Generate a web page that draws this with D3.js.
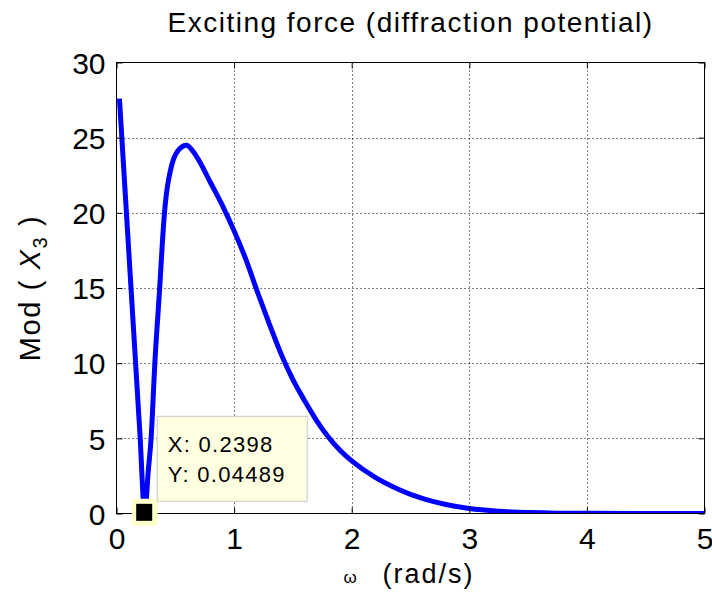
<!DOCTYPE html>
<html>
<head>
<meta charset="utf-8">
<script src="https://cdn.jsdelivr.net/npm/d3@7"></script>
<style>
  body { margin: 0; background: #fff; }
  svg { display: block; font-family: "Liberation Sans", Arial, sans-serif; }
</style>
</head>
<body>
<svg width="712" height="596"></svg>
<script>
// values
var omega = [0.025, 0.05, 0.1, 0.15, 0.2, 0.2398, 0.27, 0.295, 0.326, 0.368, 0.39, 0.408, 0.425, 0.445,
             0.474, 0.53, 0.595, 0.65, 0.7, 0.8, 0.9, 1.0, 1.1, 1.2, 1.3, 1.4, 1.5, 1.6, 1.7, 1.8,
             1.9, 2.0, 2.2, 2.4, 2.6, 2.8, 3.0, 3.25, 3.5, 3.75, 4.0, 4.5, 5.0];
var modX3 = [27.6, 24.4, 18.0, 11.6, 5.2, 0.04489, 2.8, 5.1, 10.0, 15.1, 18.0, 20.0, 21.3, 22.3,
             23.3, 24.2, 24.5, 24.1, 23.5, 22.0, 20.5, 18.8, 16.9, 14.7, 12.6, 10.6, 8.9, 7.5, 6.2, 5.1,
             4.2, 3.5, 2.4, 1.6, 1.0, 0.6, 0.33, 0.15, 0.06, 0.02, 0.01, 0.0, 0.0];
var xTicks = [0, 1, 2, 3, 4, 5];
var yTicks = [0, 5, 10, 15, 20, 25, 30];
var tipX = 0.2398, tipY = 0.04489;

var svg = d3.select("svg");
var pLeft = 116.5, pRight = 704.5, pTop = 62.5, pBottom = 513.5;

var x = d3.scaleLinear().domain([0, 5]).range([pLeft, pRight]),
    y = d3.scaleLinear().domain([0, 30]).range([pBottom, pTop]);

svg.append("defs").append("clipPath").attr("id", "plot")
  .append("rect")
    .attr("x", pLeft).attr("y", pTop)
    .attr("width", pRight - pLeft).attr("height", pBottom - pTop);

// dotted grid
var grid = svg.append("g")
    .attr("stroke", "#000")
    .attr("stroke-width", 1)
    .attr("stroke-dasharray", "1,3");
grid.selectAll(".gx")
  .data(xTicks.slice(1, -1))
  .enter().append("line")
    .attr("x1", function(d) { return Math.round(x(d)) + 0.5; })
    .attr("x2", function(d) { return Math.round(x(d)) + 0.5; })
    .attr("y1", pTop).attr("y2", pBottom);
grid.selectAll(".gy")
  .data(yTicks.slice(1, -1))
  .enter().append("line")
    .attr("y1", function(d) { return Math.round(y(d)) + 0.5; })
    .attr("y2", function(d) { return Math.round(y(d)) + 0.5; })
    .attr("x1", pLeft).attr("x2", pRight);

// curve
var line = d3.line()
    .x(function(d, i) { return x(omega[i]); })
    .y(function(d) { return y(d); })
    .curve(d3.curveMonotoneX);

svg.append("path")
    .datum(modX3)
    .attr("clip-path", "url(#plot)")
    .attr("fill", "none")
    .attr("stroke", "#0000ff")
    .attr("stroke-width", 5)
    .attr("stroke-linejoin", "round")
    .attr("d", line);

// axes on all four sides, ticks inward
var tl = 6, fmt = d3.format("d");
svg.append("g")
    .attr("class", "axis axis--x")
    .attr("transform", "translate(0," + pBottom + ")")
    .call(d3.axisBottom(x).tickValues(xTicks).tickFormat(fmt).tickSizeInner(-tl).tickSizeOuter(0).tickPadding(14));
svg.append("g")
    .attr("transform", "translate(0," + pTop + ")")
    .call(d3.axisTop(x).tickValues(xTicks).tickSizeInner(-tl).tickSizeOuter(0).tickFormat(""));
svg.append("g")
    .attr("class", "axis axis--y")
    .attr("transform", "translate(" + pLeft + ",0)")
    .call(d3.axisLeft(y).tickValues(yTicks).tickFormat(fmt).tickSizeInner(-tl).tickSizeOuter(0).tickPadding(11));
svg.append("g")
    .attr("transform", "translate(" + pRight + ",0)")
    .call(d3.axisRight(y).tickValues(yTicks).tickSizeInner(-tl).tickSizeOuter(0).tickFormat(""));

svg.selectAll(".domain").remove();
svg.selectAll(".tick line").attr("stroke", "#000");
svg.selectAll(".tick text")
    .attr("fill", "#000")
    .style("font-size", "30px")
    .style("font-family", "'Liberation Sans', Arial, sans-serif");
svg.selectAll(".axis--x .tick text").attr("dy", "0.71em");
svg.selectAll(".axis--y .tick text").attr("dy", "0.36em");

svg.append("rect")
    .attr("x", pLeft).attr("y", pTop)
    .attr("width", pRight - pLeft).attr("height", pBottom - pTop)
    .attr("fill", "none")
    .attr("stroke", "#000")
    .attr("stroke-width", 1);

// data tip
var mx = x(tipX), my = y(tipY);
svg.append("rect")
    .attr("x", mx - 13).attr("y", my - 14)
    .attr("width", 26).attr("height", 27)
    .attr("rx", 2)
    .attr("fill", "#ffffcc");
svg.append("rect")
    .attr("x", mx - 8.5).attr("y", my - 9)
    .attr("width", 16).attr("height", 17)
    .attr("fill", "#000");

var tip = svg.append("g").attr("transform", "translate(" + (mx + 12) + "," + (my - 97) + ")");
tip.append("rect")
    .attr("x", 0.5).attr("y", 0.5)
    .attr("width", 150).attr("height", 85)
    .attr("fill", "#ffffe1")
    .attr("stroke", "#c8c8c8");
tip.selectAll("text")
  .data(["X: " + tipX, "Y: " + tipY])
  .enter().append("text")
    .attr("x", 11)
    .attr("y", function(d, i) { return 36 + i * 30; })
    .style("font-size", "22px")
    .style("letter-spacing", "1.3px")
    .text(function(d) { return d; });

// title and labels
var cx = (pLeft + pRight) / 2;
svg.append("text")
    .attr("x", cx).attr("y", 32)
    .attr("text-anchor", "middle")
    .style("font-size", "28px")
    .style("letter-spacing", "1.5px")
    .text("Exciting force (diffraction potential)");

svg.append("text")
    .attr("x", cx - 67).attr("y", 583)
    .style("font-size", "17px")
    .text("\u03c9");
svg.append("text")
    .attr("x", cx - 28).attr("y", 583)
    .style("font-size", "27px")
    .style("letter-spacing", "2px")
    .text("(rad/s)");

var yl = svg.append("text")
    .attr("transform", "translate(40," + ((pTop + pBottom) / 2) + ") rotate(-90)")
    .attr("text-anchor", "middle")
    .style("font-size", "29px")
    .style("letter-spacing", "1.6px");
yl.append("tspan").text("Mod ( ");
yl.append("tspan").style("font-style", "italic").text("X");
yl.append("tspan").attr("dy", 7).style("font-size", "20px").text("3");
yl.append("tspan").attr("dy", -7).text(" )");
</script>
</body>
</html>
